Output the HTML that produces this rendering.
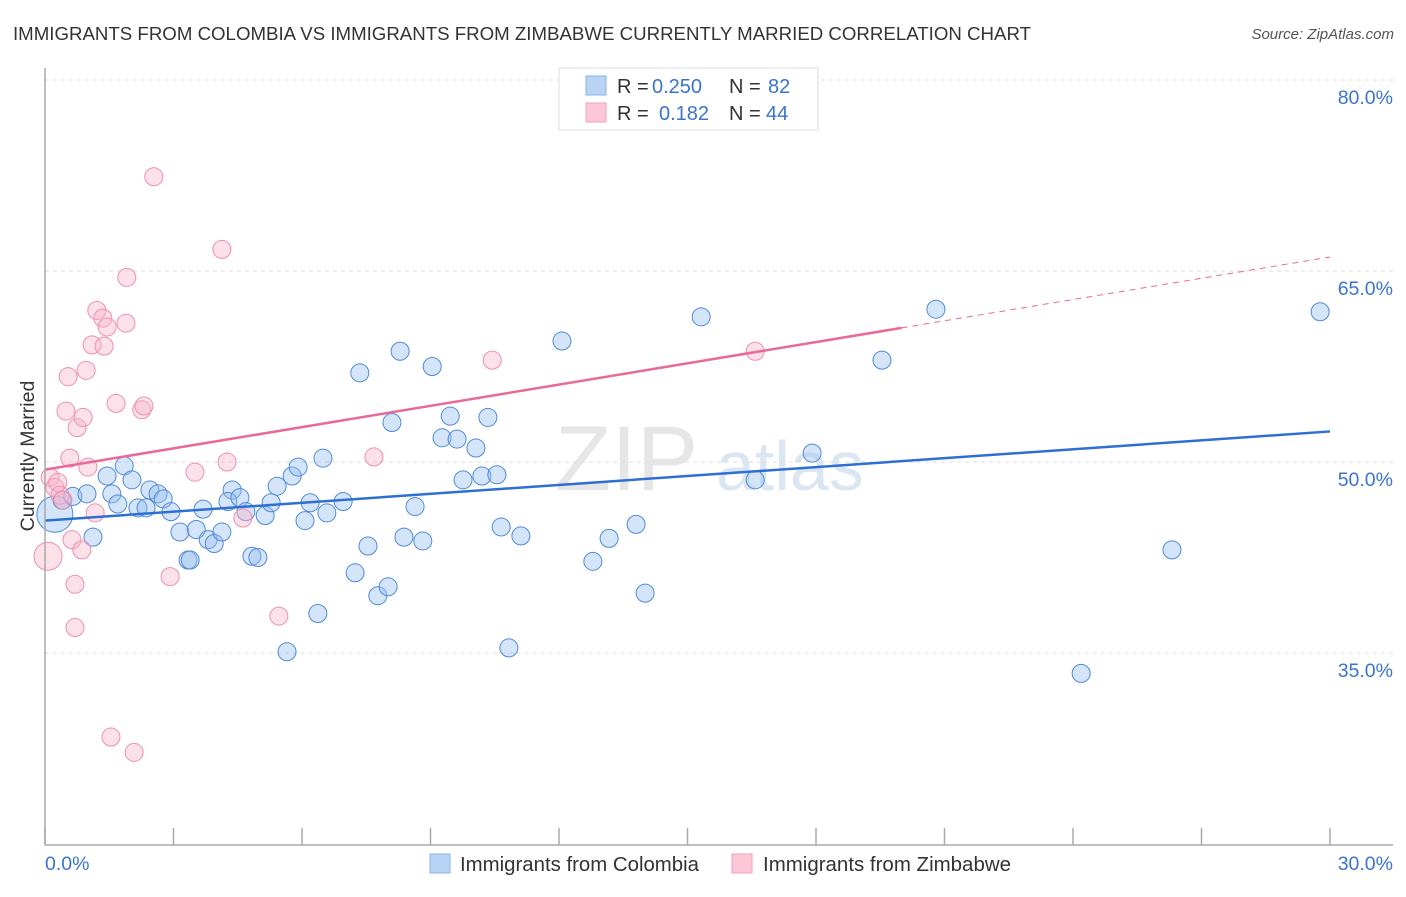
<!DOCTYPE html>
<html><head><meta charset="utf-8">
<style>
body{margin:0;background:#fff;font-family:"Liberation Sans",sans-serif;}
svg text{font-family:"Liberation Sans",sans-serif;}
</style></head>
<body>
<svg id="chart" width="1406" height="892" xmlns="http://www.w3.org/2000/svg">
<text x="13" y="40" font-size="18.5" fill="#333" textLength="1018" lengthAdjust="spacingAndGlyphs">IMMIGRANTS FROM COLOMBIA VS IMMIGRANTS FROM ZIMBABWE CURRENTLY MARRIED CORRELATION CHART</text>
<text x="1394" y="39" font-size="15" fill="#555" text-anchor="end" font-style="italic">Source: ZipAtlas.com</text>
<text x="555" y="490" font-size="92" fill="#e6e6e6" font-family="Liberation Serif">ZIP</text>
<text x="716" y="490" font-size="70" fill="#dbe6f3">atlas</text>
<g id="grid"></g>
<g id="marks"></g>
<g id="lines"></g>
<line x1="45" y1="68" x2="45" y2="845" stroke="#aaa" stroke-width="1.5"/>
<line x1="45" y1="845" x2="1393" y2="845" stroke="#aaa" stroke-width="1.5"/>
<text transform="translate(34,456) rotate(-90)" font-size="19.5" fill="#333" text-anchor="middle">Currently Married</text>
<g>
<rect x="559" y="68" width="259" height="62" fill="#fff" stroke="#ddd"/>
<rect x="586" y="76" width="20" height="19" fill="#b9d3f5" stroke="#8ab3e6"/>
<rect x="586" y="103" width="20" height="19" fill="#fcc7d6" stroke="#f0a0b8"/>
<text x="617" y="93" font-size="20" fill="#333">R =</text>
<text x="652" y="93" font-size="20" fill="#3a73d0">0.250</text>
<text x="729" y="93" font-size="20" fill="#333">N =</text>
<text x="768" y="93" font-size="20" fill="#3a73d0">82</text>
<text x="617" y="120" font-size="20" fill="#333">R =</text>
<text x="659" y="120" font-size="20" fill="#3a73d0">0.182</text>
<text x="729" y="120" font-size="20" fill="#333">N =</text>
<text x="766" y="120" font-size="20" fill="#3a73d0">44</text>
</g>
<g>
<rect x="430" y="854" width="20" height="19" fill="#b9d3f5" stroke="#8ab3e6"/>
<text x="460" y="871" font-size="20" fill="#333" textLength="239" lengthAdjust="spacingAndGlyphs">Immigrants from Colombia</text>
<rect x="732" y="854" width="20" height="19" fill="#fcc7d6" stroke="#f0a0b8"/>
<text x="763" y="871" font-size="20" fill="#333" textLength="248" lengthAdjust="spacingAndGlyphs">Immigrants from Zimbabwe</text>
</g>
</svg>
<script>
const yTicks=[80,65,50,35];
const yTickLabels=["80.0%","65.0%","50.0%","35.0%"];
const xTicks=[0,3,6,9,12,15,18,21,24,27,30];
const xTickLabels=["0.0%","30.0%"];
const colX=[0.23,0.40,0.65,0.98,1.12,1.45,1.56,1.70,1.85,2.03,2.17,2.36,2.45,2.64,2.76,2.94,3.15,3.34,3.39,3.53,3.69,3.81,3.95,4.13,4.37,4.27,4.55,4.69,4.83,4.97,5.14,5.28,5.42,5.77,5.91,6.07,6.19,6.37,6.49,6.58,6.96,5.65,7.24,7.35,7.54,7.77,8.01,8.10,8.29,8.38,8.64,8.82,9.04,9.27,9.46,9.62,9.76,10.06,10.20,10.34,10.55,10.65,10.83,11.11,12.07,12.79,13.17,13.80,14.01,15.32,16.58,17.91,19.54,20.80,24.19,26.31,29.77];
const colY=[45.9,47.0,47.3,47.5,44.1,48.9,47.5,46.7,49.7,48.6,46.4,46.4,47.8,47.5,47.1,46.1,44.5,42.3,42.3,44.7,46.3,43.9,43.6,44.5,47.8,46.9,47.2,46.1,42.6,42.5,45.8,46.8,48.1,48.9,49.6,45.4,46.8,38.1,50.3,46.0,46.9,35.1,41.3,57.0,43.4,39.5,40.2,53.1,58.7,44.1,46.5,43.8,57.5,51.9,53.6,51.8,48.6,51.1,48.9,53.5,49.0,44.9,35.4,44.2,59.5,42.2,44.0,45.1,39.7,61.4,48.6,50.7,58.0,62.0,33.4,43.1,61.8];
const colR=[18,9,9,9,9,9,9,9,9,9,9,9,9,9,9,9,9,9,9,9,9,9,9,9,9,9,9,9,9,9,9,9,9,9,9,9,9,9,9,9,9,9,9,9,9,9,9,9,9,9,9,9,9,9,9,9,9,9,9,9,9,9,9,9,9,9,9,9,9,9,9,9,9,9,9,9,9];
const zimX=[0.07,0.12,0.23,0.30,0.35,0.42,0.49,0.54,0.58,0.63,0.70,0.70,0.75,0.89,0.86,0.96,1.00,1.10,1.17,1.21,1.35,1.38,1.45,1.54,1.66,1.91,1.89,2.08,2.26,2.31,2.54,2.92,3.50,4.13,4.25,4.62,5.46,7.68,10.44,16.58];
const zimY=[42.6,48.8,48.0,48.4,47.4,47.0,54.0,56.7,50.3,43.9,40.4,37.0,52.7,53.5,43.1,57.2,49.6,59.2,46.0,61.9,61.3,59.1,60.6,28.4,54.6,64.5,60.9,27.2,54.1,54.4,72.4,41.0,49.2,66.7,50.0,45.6,37.9,50.4,58.0,58.7];
const zimR=[14,9,9,9,9,9,9,9,9,9,9,9,9,9,9,9,9,9,9,9,9,9,9,9,9,9,9,9,9,9,9,9,9,9,9,9,9,9,9,9];
const colTrend=[45.4,52.4];   // value at x=0 and x=30
const zimTrend=[49.4,66.1];   // value at x=0 and x=30
const zimSolidEnd=20;
const NS="http://www.w3.org/2000/svg";
const xS=v=>45+v*(1285/30);
const yS=v=>80+(80-v)*(191/15);
function mk(tag,attrs,parent){const e=document.createElementNS(NS,tag);for(const k in attrs)e.setAttribute(k,attrs[k]);parent.appendChild(e);return e;}
const grid=document.getElementById('grid'),marks=document.getElementById('marks'),lines=document.getElementById('lines'),svg=document.getElementById('chart');
yTicks.forEach((t,i)=>{
 const l=mk('line',{x1:45,x2:1393,y1:yS(t),y2:yS(t),stroke:'#ddd','stroke-dasharray':'4,4'},grid);
 
 
 const tx=mk('text',{x:1393,y:yS(t)+24,'font-size':19.5,fill:'#3a73d0','text-anchor':'end'},svg);
 tx.textContent=yTickLabels[i];
 
 
});
xTicks.forEach(t=>{
 const l=mk('line',{x1:xS(t),x2:xS(t),y1:828,y2:845,stroke:'#aaa','stroke-width':1.5},svg);
 
 
});
[[0,xTickLabels[0],'start',45],[30,xTickLabels[1],'end',1393]].forEach(d=>{
 const tx=mk('text',{x:d[3],y:870,'font-size':19.5,fill:'#3a73d0','text-anchor':d[2]},svg);
 tx.textContent=d[1];
 
 
});
colX.forEach((x,i)=>{
 const c=mk('circle',{cx:xS(x),cy:yS(colY[i]),r:colR[i],fill:'rgba(150,190,240,0.4)',stroke:'#4f8ad8','stroke-width':1},marks);
 
 
});
zimX.forEach((x,i)=>{
 const c=mk('circle',{cx:xS(x),cy:yS(zimY[i]),r:zimR[i],fill:'rgba(250,180,200,0.4)',stroke:'#ee8fae','stroke-width':1},marks);
 
 
});
const cl=mk('line',{x1:xS(0),y1:yS(colTrend[0]),x2:xS(30),y2:yS(colTrend[1]),stroke:'#2e6fd4','stroke-width':2.5},lines);


const zAt=x=>zimTrend[0]+(zimTrend[1]-zimTrend[0])*x/30;
const zl=mk('line',{x1:xS(0),y1:yS(zAt(0)),x2:xS(zimSolidEnd),y2:yS(zAt(zimSolidEnd)),stroke:'#e8699a','stroke-width':2.5},lines);


const zd=mk('line',{x1:xS(zimSolidEnd),y1:yS(zAt(zimSolidEnd)),x2:xS(30),y2:yS(zAt(30)),stroke:'#e8699a','stroke-width':1,'stroke-dasharray':'6,5'},lines);


</script>
</body></html>
